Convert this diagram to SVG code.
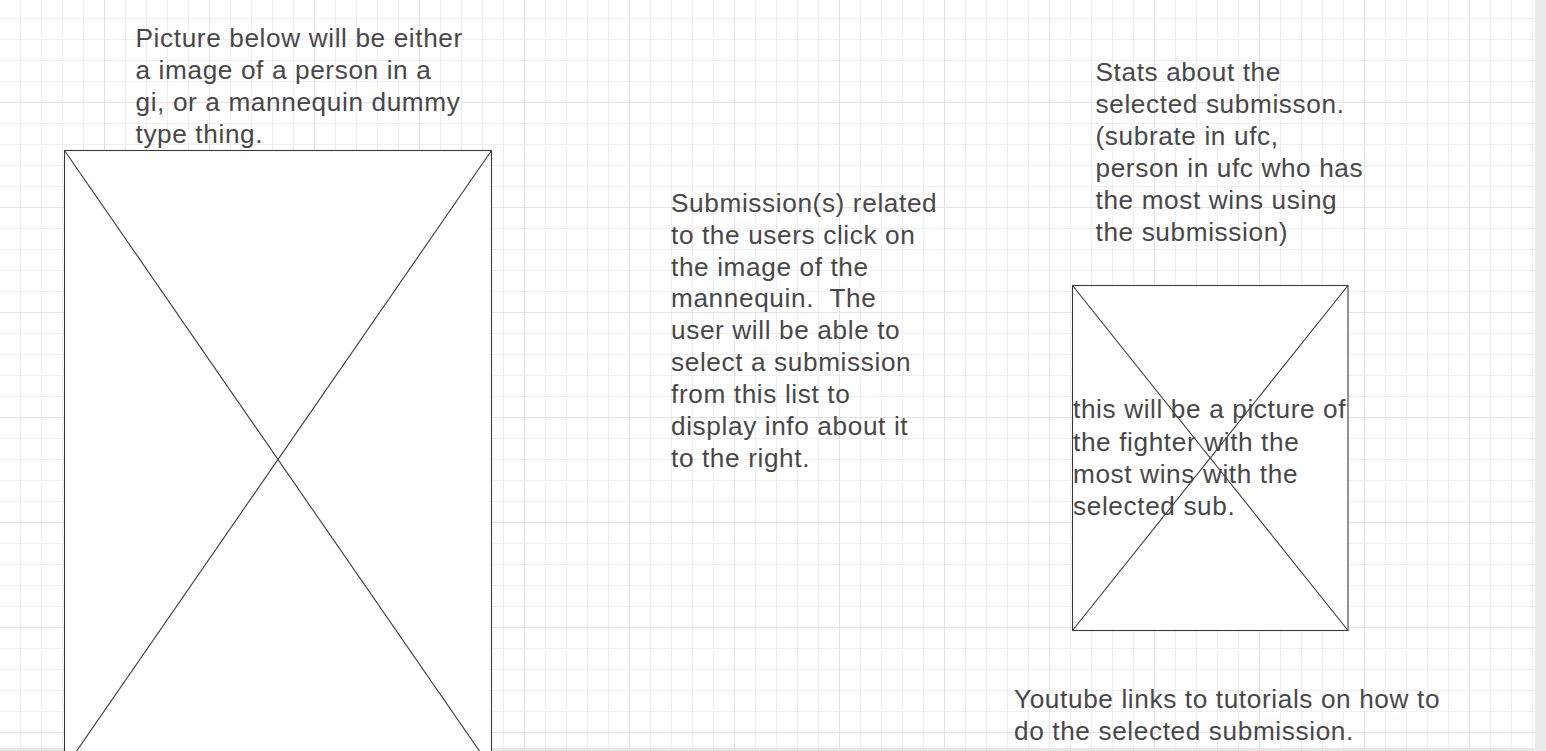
<svg xmlns="http://www.w3.org/2000/svg" width="1546" height="751" viewBox="0 0 1546 751">
  <defs>
    <pattern id="grid" patternUnits="userSpaceOnUse" x="-1" y="-3" width="105" height="105">
      <rect x="0" y="0" width="105" height="105" fill="#ffffff"/>
      <g fill="#efefef">
        <rect x="21" y="0" width="1" height="105"/>
        <rect x="42" y="0" width="1" height="105"/>
        <rect x="63" y="0" width="1" height="105"/>
        <rect x="84" y="0" width="1" height="105"/>
        <rect x="0" y="21" width="105" height="1"/>
        <rect x="0" y="42" width="105" height="1"/>
        <rect x="0" y="63" width="105" height="1"/>
        <rect x="0" y="84" width="105" height="1"/>
      </g>
      <g fill="#e3e3e3">
        <rect x="0" y="0" width="1" height="105"/>
        <rect x="0" y="0" width="105" height="1"/>
      </g>
    </pattern>
    <style>
      .frame { fill: #ffffff; stroke: #3a3a3a; stroke-width: 1.1; }
      .diag { fill: none; stroke: #3a3a3a; stroke-width: 1.1; }
      .lbl { font-family: "Liberation Sans", Arial, sans-serif; font-size: 26.2px; letter-spacing: 0.62px; fill: #484848; white-space: pre; }
    </style>
  </defs>

  <rect x="0" y="0" width="1546" height="751" fill="#ffffff"/>
  <rect x="0" y="0" width="1535" height="748" fill="url(#grid)"/>
  <rect x="1535" y="0" width="11" height="751" fill="#ebebeb"/>
  <rect x="0" y="748" width="1535" height="3" fill="#e6e6e6"/>

  <g id="connectors"/>

  <g id="mannequin-image">
    <rect class="frame" x="64.5" y="150.5" width="427" height="618"/>
    <line class="diag" x1="64.5" y1="150.5" x2="491.5" y2="768.5"/>
    <line class="diag" x1="491.5" y1="150.5" x2="64.5" y2="768.5"/>
  </g>

  <g id="fighter-image">
    <rect class="frame" x="1072.5" y="285.5" width="275.5" height="345"/>
    <line class="diag" x1="1072.5" y1="285.5" x2="1348" y2="630.5"/>
    <line class="diag" x1="1348" y1="285.5" x2="1072.5" y2="630.5"/>
  </g>

  <g id="picture-note">
    <text class="lbl" x="135.5" y="47.3">
      <tspan x="135.5" y="47.3">Picture below will be either</tspan>
      <tspan x="135.5" y="79">a image of a person in a</tspan>
      <tspan x="135.5" y="110.8">gi, or a mannequin dummy</tspan>
      <tspan x="135.5" y="142.6">type thing.</tspan>
    </text>
  </g>

  <g id="submissions-note">
    <text class="lbl" x="671" y="211.7">
      <tspan x="671" y="211.7">Submission(s) related</tspan>
      <tspan x="671" y="243.6">to the users click on</tspan>
      <tspan x="671" y="275.5">the image of the</tspan>
      <tspan x="671" y="307.4">mannequin.&#160; The</tspan>
      <tspan x="671" y="339.3">user will be able to</tspan>
      <tspan x="671" y="371.2">select a submission</tspan>
      <tspan x="671" y="403.1">from this list to</tspan>
      <tspan x="671" y="435">display info about it</tspan>
      <tspan x="671" y="466.9">to the right.</tspan>
    </text>
  </g>

  <g id="stats-note">
    <text class="lbl" x="1095.5" y="81">
      <tspan x="1095.5" y="81">Stats about the</tspan>
      <tspan x="1095.5" y="112.9">selected submisson.</tspan>
      <tspan x="1095.5" y="144.8">(subrate in ufc,</tspan>
      <tspan x="1095.5" y="176.7">person in ufc who has</tspan>
      <tspan x="1095.5" y="208.6">the most wins using</tspan>
      <tspan x="1095.5" y="240.5">the submission)</tspan>
    </text>
  </g>

  <g id="fighter-note">
    <text class="lbl" x="1073" y="418.3">
      <tspan x="1073" y="418.3">this will be a picture of</tspan>
      <tspan x="1073" y="450.5">the fighter with the</tspan>
      <tspan x="1073" y="482.7">most wins with the</tspan>
      <tspan x="1073" y="514.9">selected sub.</tspan>
    </text>
  </g>

  <g id="youtube-note">
    <text class="lbl" x="1014" y="708.3">
      <tspan x="1014" y="708.3">Youtube links to tutorials on how to</tspan>
      <tspan x="1014" y="740">do the selected submission.</tspan>
    </text>
  </g>
</svg>
